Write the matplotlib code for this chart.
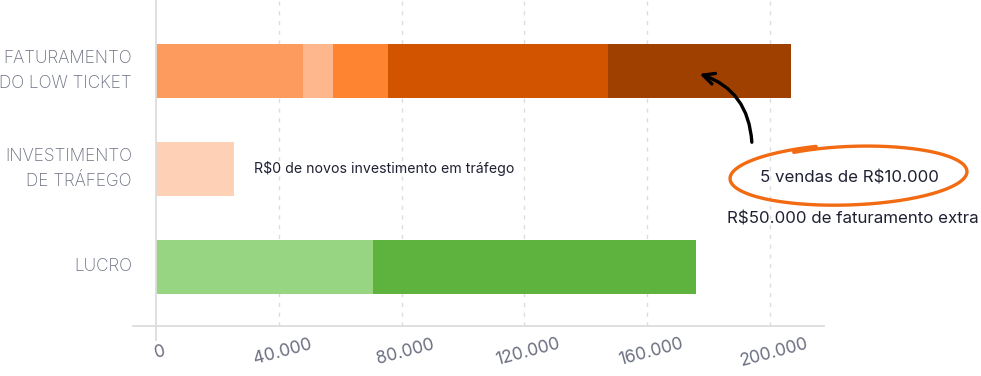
import numpy as np
import matplotlib.pyplot as plt
import matplotlib.transforms as mtrans
from matplotlib.patches import FancyArrowPatch

plt.rcParams['font.family'] = ['Inter', 'DejaVu Sans']

# data
categorias = ['FATURAMENTO\nDO LOW TICKET', 'INVESTIMENTO\nDE TRÁFEGO', 'LUCRO']
faturamento = [48000, 9800, 17900, 71700, 59600]
investimento = [25400]
lucro = [70700, 105200]
ticks = [0, 40000, 80000, 120000, 160000, 200000]
tick_labels = ['0', '40.000', '80.000', '120.000', '160.000', '200.000']

cores_fat = ['#fd9b5e', '#feb68c', '#fe8432', '#d35400', '#a04000']
cores_inv = ['#fed0b5']
cores_luc = ['#98d582', '#5eb33f']

W, H = 981, 376
fig = plt.figure(figsize=(W / 100, H / 100), dpi=100)
ax = fig.add_axes([133 / W, 50 / H, (824 - 133) / W, 326 / H])

def empilha(y, valores, cores):
    esq = 0
    for v, c in zip(valores, cores):
        ax.barh(y, v, left=esq, height=0.551, color=c, zorder=2)
        esq += v

empilha(0, faturamento, cores_fat)
empilha(1, investimento, cores_inv)
empilha(2, lucro, cores_luc)

ax.set_xlim(-7490, 217600)
ax.set_ylim(2.602, -0.724)

for t in ticks[1:]:
    ax.axvline(t, color='#dddddd', lw=1, ls=(0, (3, 4)), zorder=1)
ax.plot([0, 0], [-0.724, 2.74], color='#dcdcdc', lw=1.3, clip_on=False, zorder=3)

for s in ['top', 'right', 'left']:
    ax.spines[s].set_visible(False)
ax.spines['bottom'].set_color('#dcdcdc')
ax.spines['bottom'].set_linewidth(1.3)

ax.set_yticks([])
ax.set_xticks(ticks)
ax.set_xticklabels(tick_labels)
ax.tick_params(axis='x', length=0, pad=19, labelsize=12.5, labelcolor='#6b6f80')
off = mtrans.ScaledTranslation(4 / 100, 0, fig.dpi_scale_trans)
for lb in ax.get_xticklabels():
    lb.set_rotation(15)
    lb.set_rotation_mode('anchor')
    lb.set_ha('center')
    lb.set_va('center')
    lb.set_transform(lb.get_transform() + off)

for i, c in enumerate(categorias):
    ax.text(-7490, i, c, ha='right', va='center', fontsize=12.4, color='#6b6f80',
            linespacing=1.6, multialignment='right', fontweight='light',
            transform=ax.transData + mtrans.ScaledTranslation(-1 / 100, 0, fig.dpi_scale_trans))

ax.text(32000, 1, 'R$0 de novos investimento em tráfego', ha='left', va='center',
        fontsize=10.2, color='#1f2133')

# overlay em pixels para a anotação
ov = fig.add_axes([0, 0, 1, 1], facecolor='none')
ov.set_xlim(0, W)
ov.set_ylim(H, 0)
ov.axis('off')

ov.text(849, 178, '5 vendas de R$10.000', ha='center', va='center', fontsize=12.2, color='#1f2133')
ov.text(853, 219, 'R$50.000 de faturamento extra', ha='center', va='center', fontsize=12.2, color='#1f2133')

t = np.linspace(np.radians(106), np.radians(480), 300)
s = np.linspace(1.07, 0.98, t.size)
cx, cy, a, b = 851, 175, 115, 29
rot = np.radians(-2)
ex = a * s * np.cos(t)
ey = -b * s * np.sin(t)
px = cx + ex * np.cos(rot) - ey * np.sin(rot)
py = cy + ex * np.sin(rot) + ey * np.cos(rot)
ov.plot(px, py, color='#f26a12', lw=2.4, solid_capstyle='round')

arr = FancyArrowPatch((752, 145), (697, 73), connectionstyle='arc3,rad=0.35',
                      arrowstyle='->,head_length=8,head_width=4', color='black', lw=2.4)
ov.add_patch(arr)

fig.savefig('out.png', dpi=100)
